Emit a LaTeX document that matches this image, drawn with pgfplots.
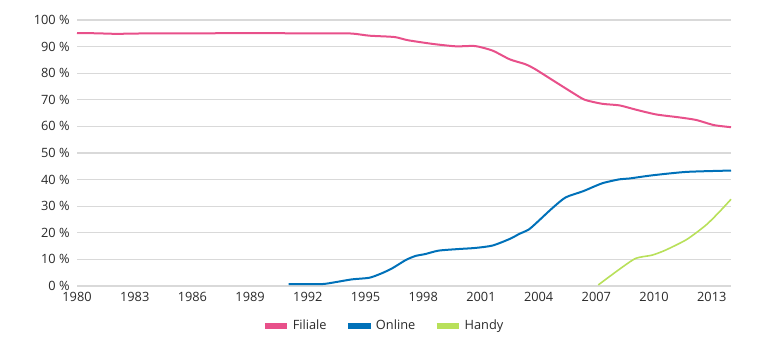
\documentclass[border=0pt]{standalone}
\usepackage{pgfplots}
\pgfplotsset{compat=1.18}
\usepackage{fontspec}
\setmainfont{Open Sans}
\definecolor{cpink}{HTML}{E8508A}
\definecolor{cblue}{HTML}{0071B9}
\definecolor{cgreen}{HTML}{B8E05A}
\definecolor{cgrid}{HTML}{D9D9D9}
\definecolor{ctext}{HTML}{2A2A2A}
\begin{document}
\begin{tikzpicture}
\begin{axis}[
  at={(0,0)}, anchor=south west,
  scale only axis,
  width=490.5pt, height=199.5pt,
  xmin=1980, xmax=2014, ymin=0, ymax=100,
  axis line style={draw=none},
  major tick length=0pt,
  xtick={1980,1983,...,2013},
  xticklabel style={/pgf/number format/1000 sep={}},
  ytick={0,10,...,100},
  yticklabels={0 \%,10 \%,20 \%,30 \%,40 \%,50 \%,60 \%,70 \%,80 \%,90 \%,100 \%},
  ymajorgrids, grid style={cgrid, line width=0.8pt},
  /pgf/number format/assume math mode=true,
  tick label style={font=\fontsize{9.6}{11}\selectfont, text=ctext},
  xticklabel style={yshift=-1.5pt},
  yticklabel style={xshift=-2pt},
  legend columns=3,
  legend style={draw=none, fill=none, at={(0.4695,-0.150)}, anchor=center,
    font=\fontsize{9.6}{11}\selectfont, text=ctext,
    /tikz/every even column/.append style={column sep=12pt}},
  legend image code/.code={\draw[line width=4pt] (0pt,0pt) -- (17pt,0pt);},
  clip=false,
]
\addplot[cpink, line width=1.5pt, smooth, tension=0.4] coordinates {
(1980,95.1) (1981,95.0) (1982,94.8) (1983,94.9) (1984,95.0) (1985,95.0) (1986,95.0) (1987,95.0) (1988,95.1) (1989,95.1) (1990,95.1) (1991,95.0) (1992,95.0) (1993,95.0) (1994.3,94.9)
(1995.2,94.1) (1996.5,93.6) (1997.2,92.4) (1998.5,91.0) (1999.7,90.1) (2000.7,90.2) (2001.6,88.5) (2002.5,85.2) (2003.3,83.4) (2003.8,81.6) (2004.7,77.5) (2005.8,72.5) (2006.4,70.0) (2007.3,68.5) (2008.2,67.9) (2009.0,66.4) (2010.1,64.5) (2011.3,63.4) (2012.2,62.4) (2013.1,60.5) (2014,59.7)
};
\addlegendentry{Filiale}
\addplot[cblue, line width=1.5pt, smooth, tension=0.4] coordinates {
(1991.0,0.7) (1992.7,0.7) (1993.4,1.4) (1994.3,2.5) (1995.2,3.1) (1995.85,4.8) (1996.4,6.7) (1997.1,9.8) (1997.6,11.3) (1998.1,12.0) (1998.8,13.3) (1999.85,13.9) (2000.7,14.3) (2001.6,15.2) (2002.5,17.7) (2003.0,19.6) (2003.5,21.3) (2004.0,24.5) (2004.7,29.2) (2005.4,33.3) (2006.3,35.6) (2007.3,38.6) (2008.2,40.1) (2008.7,40.4) (2009.9,41.6) (2011.7,42.9) (2014,43.4)
};
\addlegendentry{Online}
\addplot[cgreen, line width=1.2pt, smooth, tension=0.4] coordinates {
(2007.1,0.4) (2008.2,6.3) (2009.05,10.4) (2009.9,11.6) (2010.6,13.5) (2011.7,17.5) (2012.7,22.9) (2013.4,27.9) (2014,32.6)
};
\addlegendentry{Handy}
\end{axis}
\pgfresetboundingbox
\path[use as bounding box] (-57.75pt,-49.5pt) rectangle (519.75pt,214.5pt);
\end{tikzpicture}
\end{document}
